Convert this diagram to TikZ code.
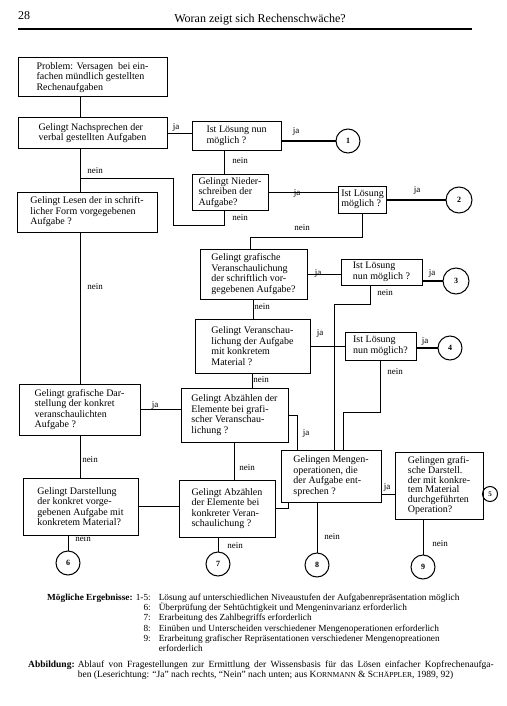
\documentclass[tikz,border=0pt]{standalone}
\usepackage{fontspec}
\setmainfont{Liberation Serif}
\usetikzlibrary{calc}

\begin{document}
\begin{tikzpicture}[x=1pt, y=-1pt,
		box/.style={draw, line width=1pt, align=left, inner sep=3pt, font=\fontsize{10}{10.5}\selectfont},
		res/.style={draw, circle, line width=1pt, inner sep=0pt, minimum size=24pt, font=\fontsize{8}{8}\selectfont\bfseries},
		lab/.style={inner sep=0pt, font=\fontsize{9}{9}\selectfont},
		con/.style={line width=0.9pt},
		hit/.style={line width=1.6pt}]
			%%%%% START %%%%%
			\useasboundingbox (0,0) rectangle (506,706);
			
			% header
			\node[anchor=base west, inner sep=0pt, font=\fontsize{12}{12}\selectfont] (page) at (18,20) {28};
			\node[anchor=base, inner sep=0pt, font=\fontsize{12}{12}\selectfont] (title) at (260,23) {Woran zeigt sich Rechenschwäche?};
			\draw[line width=1.1pt] (18,29) -- (472,29);
			
			% left column
			\node[box, minimum width=149, minimum height=39] (prob) at (92.5,77.5) {Problem: Versagen\ \ bei ein-\\fachen mündlich gestellten\\Rechenaufgaben};
			\node[box, minimum width=149, minimum height=30] (nach) at (92.5,133) {Gelingt Nachsprechen der\\verbal gestellten Aufgaben};
			\node[box, minimum width=140, minimum height=40] (lesen) at (87,212) {Gelingt Lesen der in schrift-\\licher Form vorgegebenen\\Aufgabe ?};
			\node[box, minimum width=121, minimum height=51] (gdar) at (79.5,409.5) {Gelingt grafische Dar-\\stellung der konkret\\veranschaulichten\\Aufgabe ?};
			\node[box, minimum width=115, minimum height=57] (kdar) at (80.5,506.5) {Gelingt Darstellung\\der konkret vorge-\\gebenen Aufgabe mit\\konkretem Material?};
			
			% middle column
			\node[box, minimum width=89, minimum height=28] (loes1) at (236.5,136) {Ist Lösung nun\\möglich ?};
			\node[box, minimum width=76, minimum height=35] (nied) at (230,192.5) {Gelingt Nieder-\\schreiben der\\Aufgabe?};
			\node[box, minimum width=107, minimum height=50] (graf) at (253.5,274) {Gelingt grafische\\Veranschaulichung\\der schriftlich vor-\\gegebenen Aufgabe?};
			\node[box, minimum width=115, minimum height=54] (vers) at (252.5,346) {Gelingt Veranschau-\\lichung der Aufgabe\\mit konkretem\\Material ?};
			\node[box, minimum width=107, minimum height=54] (abzg) at (234.5,415) {Gelingt Abzählen der\\Elemente bei grafi-\\scher Veranschau-\\lichung ?};
			\node[box, minimum width=96, minimum height=57] (abzk) at (227,508.5) {Gelingt Abzählen\\der Elemente bei\\konkreter Veran-\\schaulichung ?};
			
			% right column
			\node[box, minimum width=46, minimum height=27, inner xsep=2.5pt] (loes2) at (362.5,199.5) {Ist Lösung\\möglich ?};
			\node[box, minimum width=81, minimum height=26] (loes3) at (381.5,272) {Ist Lösung\\nun möglich ?};
			\node[box, minimum width=71, minimum height=28] (loes4) at (380.5,346) {Ist Lösung\\nun möglich?};
			\node[box, minimum width=100, minimum height=52] (meng) at (331,476) {Gelingen Mengen-\\operationen, die\\der Aufgabe ent-\\sprechen ?};
			\node[box, minimum width=88, minimum height=67, font=\fontsize{10}{9.8}\selectfont] (gop) at (439,485.5) {Gelingen grafi-\\sche Darstell.\\der mit konkre-\\tem Material\\durchgeführten\\Operation?};
			
			% results
			\node[res] (res1) at (348,141) {1};
			\node[res, minimum size=26pt] (res2) at (459,200) {2};
			\node[res, minimum size=26pt] (res3) at (456,281) {3};
			\node[res] (res4) at (450,348) {4};
			\node[res, minimum size=15pt, font=\fontsize{7}{7}\selectfont\bfseries] (res5) at (490,494) {5};
			\node[res] (res6) at (68,563) {6};
			\node[res] (res7) at (218,564) {7};
			\node[res] (res8) at (317,565) {8};
			\node[res] (res9) at (423,567) {9};
			
			% bends
			\coordinate (colL) at (80,0);
			\coordinate (colN) at (224,0);
			\coordinate (colI) at (370,0);
			\coordinate (colJ) at (297,0);
			\coordinate (colK) at (288,0);
			\coordinate (k1a) at (173,225);
			\coordinate (k1b) at (173,178);
			\coordinate (k2) at (250,237);
			\coordinate (k3) at (334,304);
			\coordinate (k4) at (343,412);
			
			% connectors
			\draw[con] (prob.south -| colL) -- (nach.north -| colL);
			\draw[con] (nach.east) -- (nach.east -| loes1.west);
			\draw[hit] (loes1.east |- res1) -- (res1.west);
			\draw[con] (loes1.south -| colN) -- (nied.north -| colN);
			\draw[con] (nied.east) -- (nied.east -| loes2.west);
			\draw[hit] (loes2.east |- res2) -- (res2.west);
			\draw[con] (nied.south -| colN) |- (k1a) -- (k1b) -- (k1b -| colL);
			\draw[con] (nach.south -| colL) -- (lesen.north -| colL);
			\draw[con] (loes2.south) |- (k2) -- (k2 |- graf.north);
			\draw[con] (lesen.south -| colL) -- (gdar.north -| colL);
			
			\draw[con] (graf.east) -- (graf.east -| loes3.west);
			\draw[hit] (loes3.east |- res3) -- (res3.west);
			\draw[con] (graf.south) -- (graf.south |- vers.north);
			\draw[con] (vers.east) -- (vers.east -| loes4.west);
			\draw[hit] (loes4.east |- res4) -- (res4.west);
			\draw[con] (loes3.south -| colI) |- (k3) -- (k3 |- meng.north);
			\draw[con] (loes4.south) |- (k4) -- (k4 |- meng.north);
			\draw[con] (vers.south) -- (vers.south |- abzg.north);
			
			\draw[con] (gdar.east) -- (gdar.east -| abzg.west);
			\draw[con] (gdar.south -| colL) -- (kdar.north -| colL);
			\draw[con] (abzg.south) -- (abzg.south |- abzk.north);
			\draw[con] (kdar.east) -- (kdar.east -| abzk.west);
			\draw[con] (abzg.east) -| (meng.north -| colJ);
			\draw[con] (abzk.east) -| (meng.south -| colK);
			\draw[con] (res5 -| meng.east) -- (res5 -| gop.west);
			\draw[con] (gop.east |- res5) -- (res5.west);
			
			\draw[con] (kdar.south -| res6) -- (res6.north);
			\draw[con] (abzk.south -| res7) -- (res7.north);
			\draw[con] (meng.south -| res8) -- (res8.north);
			\draw[con] (gop.south -| res9) -- (res9.north);
			
			% labels
			\node[lab] (l1) at (176,127) {ja};
			\node[lab] (l2) at (296,131) {ja};
			\node[lab] (l3) at (240,161) {nein};
			\node[lab] (l4) at (297,193) {ja};
			\node[lab] (l5) at (417,190) {ja};
			\node[lab] (l6) at (240,218) {nein};
			\node[lab] (l7) at (95,171) {nein};
			\node[lab] (l8) at (302,228) {nein};
			\node[lab] (l9) at (95,287) {nein};
			\node[lab] (l10) at (318,273) {ja};
			\node[lab] (l11) at (432,273) {ja};
			\node[lab] (l12) at (385,293) {nein};
			\node[lab] (l13) at (262,307) {nein};
			\node[lab] (l14) at (320,333) {ja};
			\node[lab] (l15) at (425,341) {ja};
			\node[lab] (l16) at (395,372) {nein};
			\node[lab] (l17) at (261,380) {nein};
			\node[lab] (l18) at (155,405) {ja};
			\node[lab] (l19) at (306,433) {ja};
			\node[lab] (l20) at (90,460) {nein};
			\node[lab] (l21) at (247,468) {nein};
			\node[lab] (l22) at (387,487) {ja};
			\node[lab] (l23) at (332,537) {nein};
			\node[lab] (l24) at (83,539) {nein};
			\node[lab] (l25) at (440,544) {nein};
			\node[lab] (l26) at (235,546) {nein};
			
			% legend and caption
			\node[anchor=base west, inner sep=0pt, font=\fontsize{9.3}{10.3}\selectfont] (erg) at (47,600) {\textbf{Mögliche Ergebnisse:} \begin{tabular}[t]{@{}r@{\hspace{8pt}}l@{}}
					1-5: & Lösung auf unterschiedlichen Niveaustufen der Aufgabenrepräsentation möglich\\
					6: & Überprüfung der Sehtüchtigkeit und Mengeninvarianz erforderlich\\
					7: & Erarbeitung des Zahlbegriffs erforderlich\\
					8: & Einüben und Unterscheiden verschiedener Mengenoperationen erforderlich\\
					9: & Erarbeitung grafischer Repräsentationen verschiedener Mengenopreationen\\
					& erforderlich
				\end{tabular}};
			\node[anchor=base west, inner sep=0pt, font=\fontsize{9.5}{10.8}\selectfont] (cap) at (28,667) {\textbf{Abbildung:} \begin{tabular}[t]{@{}l@{}}
					\hbox to 416pt{Ablauf von Fragestellungen zur Ermittlung der Wissensbasis für das Lösen einfacher Kopfrechenaufga-}\\
					ben (Leserichtung: “Ja” nach rechts, “Nein” nach unten; aus K{\fontsize{7.6}{8}\selectfont ORNMANN} \& S{\fontsize{7.6}{8}\selectfont CHÄPPLER}, 1989, 92)
				\end{tabular}};
			
			%%%%% END %%%%%
		\end{tikzpicture}
\end{document}
